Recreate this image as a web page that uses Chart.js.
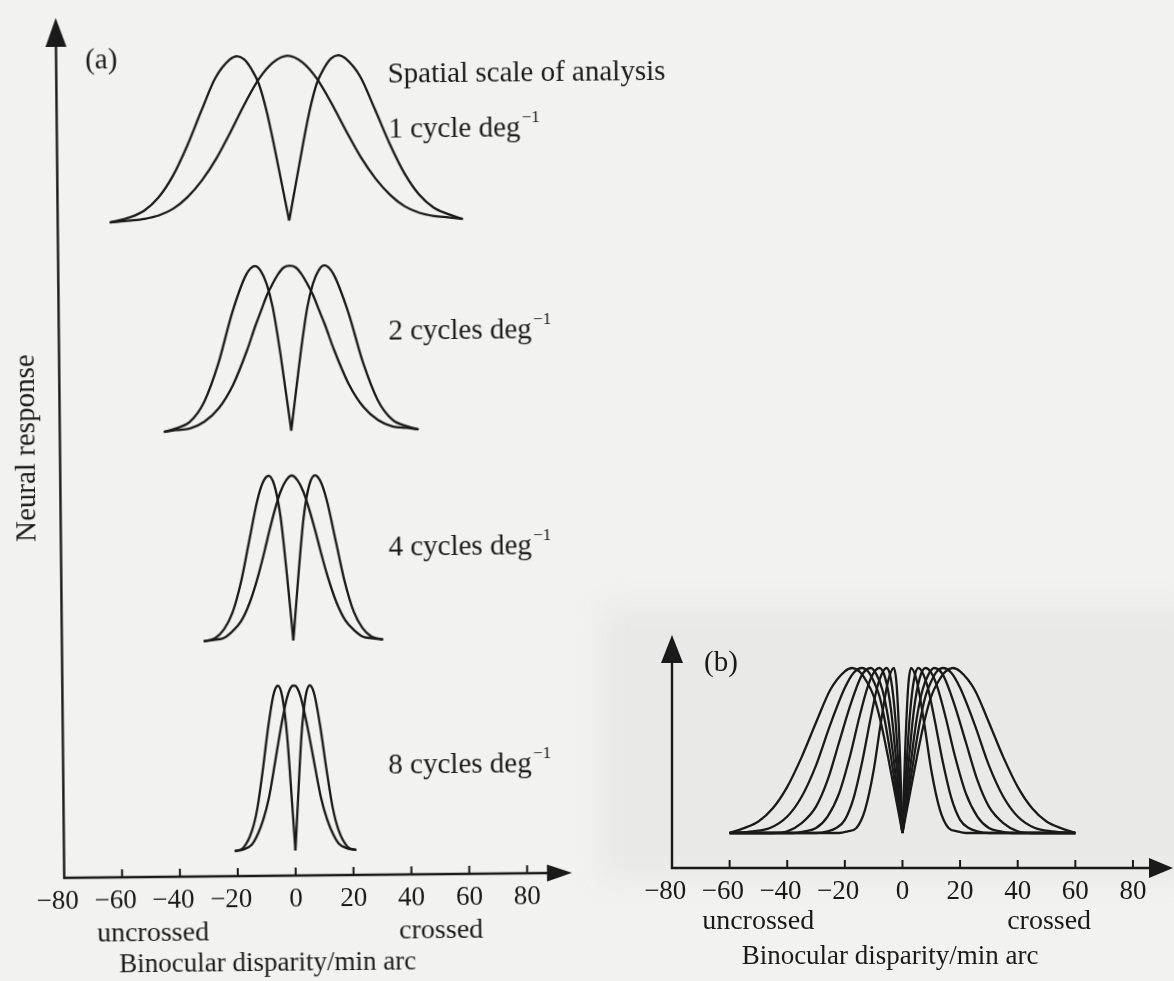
<!DOCTYPE html>
<html>
<head>
<meta charset="utf-8">
<title>Binocular disparity tuning at several spatial scales</title>
<script src="https://cdn.jsdelivr.net/npm/chart.js@4.4.1/dist/chart.umd.min.js"></script>
<style>
  html, body { margin: 0; padding: 0; background: #f2f2f0; }
  body { width: 1174px; height: 981px; position: relative; overflow: hidden; }
  #sheetShade { position: absolute; left: 600px; top: 605px; width: 600px; height: 275px;
                background: #e9e9e7; filter: blur(14px); }
  #wrapA { position: absolute; left: 0; top: 0; width: 700px; height: 981px; transform: rotate(-0.57deg); }
  #wrapB { position: absolute; left: 600px; top: 600px; width: 574px; height: 381px; }
  canvas { display: block; }
</style>
</head>
<body>
<div id="sheetShade"></div>
<div id="wrapA"><canvas id="panelA" width="700" height="981"></canvas></div>
<div id="wrapB"><canvas id="panelB" width="574" height="381"></canvas></div>
<script>
// Disparity axis ticks (min arc)
const tickValues = [-80, -60, -40, -20, 0, 20, 40, 60, 80];

// Panel (a): response curves for each spatial scale, points are [disparity, response]
const scaleLabels = ['1 cycle deg', '2 cycles deg', '4 cycles deg', '8 cycles deg'];

const tuned1 = [[-62,0],[-55,1],[-50,2],[-45,4],[-40,8],[-35,15],[-30,25],[-25,38],[-20,54],[-15,71],[-10,86],[-5,96],[0,100],[5,96],[10,86],[15,71],[20,54],[25,38],[30,25],[35,15],[40,8],[45,4],[50,2],[55,1],[60,0]];
const uncrossed1 = [[-62,0],[-55,3],[-50,7],[-45,15],[-40,28],[-35,46],[-30,67],[-25,87],[-20,98],[-17.5,100],[-15,98],[-12.5,92],[-10,83],[-7.5,67],[-5,46],[-2.5,23],[0,0]];
const crossed1 = [[0,0],[2.5,23],[5,46],[7.5,67],[10,83],[12.5,92],[15,98],[17.5,100],[20,98],[25,87],[30,67],[35,46],[40,28],[45,15],[50,7],[55,3],[60,0]];

const tuned2 = [[-44,0],[-40,1],[-35,2],[-30,6],[-25,14],[-20,28],[-15,49],[-12,64],[-10,73],[-8,82],[-6,89],[-4,95],[-2,99],[0,100],[2,99],[4,95],[6,89],[8,82],[10,73],[12,64],[15,49],[20,28],[25,14],[30,6],[35,2],[40,1],[44,0]];
const uncrossed2 = [[-44,0],[-40,2],[-35,6],[-30,18],[-25,41],[-20,72],[-15,95],[-12,100],[-10,97],[-8,89],[-6,75],[-4,53],[-2,27],[0,0]];
const crossed2 = [[0,0],[2,27],[4,53],[6,75],[8,89],[10,97],[12,100],[15,95],[20,72],[25,41],[30,18],[35,6],[40,2],[44,0]];

const tuned4 = [[-31,0],[-27,1],[-24,2],[-21,6],[-18,12],[-15,23],[-12,39],[-10,52],[-8,66],[-6,79],[-4,90],[-2,97],[0,100],[2,97],[4,90],[6,79],[8,66],[10,52],[12,39],[15,23],[18,12],[21,6],[24,2],[27,1],[31,0]];
const uncrossed4 = [[-31,0],[-27,2],[-24,7],[-21,17],[-18,35],[-15,60],[-12,85],[-10,96],[-8,100],[-6,94],[-4,75],[-2,40],[0,0]];
const crossed4 = [[0,0],[2,40],[4,75],[6,94],[8,100],[10,96],[12,85],[15,60],[18,35],[21,17],[24,7],[27,2],[31,0]];

const tuned8 = [[-21,0],[-18,1],[-15,4],[-13,10],[-11,19],[-9,32],[-7,51],[-5.5,66],[-4,80],[-2.5,92],[-1,99],[0,100],[1,99],[2.5,92],[4,80],[5.5,66],[7,51],[9,32],[11,19],[13,10],[15,4],[18,1],[21,0]];
const uncrossed8 = [[-21,0],[-18,2],[-15,12],[-13,26],[-11,49],[-9,75],[-7,95],[-5.5,100],[-4,93],[-2.5,70],[-1,29],[0,0]];
const crossed8 = [[0,0],[1,29],[2.5,70],[4,93],[5.5,100],[7,95],[9,75],[11,49],[13,26],[15,12],[18,2],[21,0]];

// Panel (b): uncrossed and crossed detectors pooled over scales
const uncrossedB1 = [[-60,0],[-55,3],[-50,7],[-45,15],[-40,28],[-35,46],[-30,67],[-25,87],[-20,98],[-17.5,100],[-15,98],[-12.5,92],[-10,83],[-7.5,67],[-5,46],[-2.5,23],[0,0]];
const uncrossedB2 = [[-60,0],[-52,1],[-46,3],[-40,10],[-35,22],[-30,41],[-25,66],[-20,88],[-17,97],[-14,100],[-12,98],[-10,92],[-8,83],[-6,67],[-4,46],[-2,23],[0,0]];
const uncrossedB3 = [[-60,0],[-45,0],[-40,1],[-35,6],[-30,16],[-26,32],[-22,55],[-18,78],[-14,96],[-11,100],[-9,96],[-7,87],[-5,70],[-3,44],[-1.5,22],[0,0]];
const uncrossedB4 = [[-60,0],[-38,0],[-34,1],[-30,3],[-26,10],[-22,24],[-18,48],[-15,70],[-12,89],[-10,97],[-8,100],[-6,94],[-4,75],[-2,40],[-1,20],[0,0]];
const uncrossedB5 = [[-60,0],[-30,0],[-26,1],[-23,3],[-20,8],[-17,21],[-14,43],[-11,70],[-8.5,90],[-5.5,100],[-4,93],[-2.5,70],[-1,29],[0,0]];
const uncrossedB6 = [[-60,0],[-22,0],[-19,1],[-16,3],[-13,14],[-10,38],[-7.5,67],[-5,92],[-3,100],[-2,89],[-1,53],[0,0]];
const crossedB1 = [[0,0],[2.5,23],[5,46],[7.5,67],[10,83],[12.5,92],[15,98],[17.5,100],[20,98],[25,87],[30,67],[35,46],[40,28],[45,15],[50,7],[55,3],[60,0]];
const crossedB2 = [[0,0],[2,23],[4,46],[6,67],[8,83],[10,92],[12,98],[14,100],[17,97],[20,88],[25,66],[30,41],[35,22],[40,10],[46,3],[52,1],[60,0]];
const crossedB3 = [[0,0],[1.5,22],[3,44],[5,70],[7,87],[9,96],[11,100],[14,96],[18,78],[22,55],[26,32],[30,16],[35,6],[40,1],[45,0],[60,0]];
const crossedB4 = [[0,0],[1,20],[2,40],[4,75],[6,94],[8,100],[10,97],[12,89],[15,70],[18,48],[22,24],[26,10],[30,3],[34,1],[38,0],[60,0]];
const crossedB5 = [[0,0],[1,29],[2.5,70],[4,93],[5.5,100],[8.5,90],[11,70],[14,43],[17,21],[20,8],[23,3],[26,1],[30,0],[60,0]];
const crossedB6 = [[0,0],[1,53],[2,89],[3,100],[5,92],[7.5,67],[10,38],[13,14],[16,3],[19,1],[22,0],[60,0]];

// ---------------------------------------------------------------------------
const INK = '#1a1a1a';
const SERIF = "'Liberation Serif', 'Times New Roman', serif";
const TICK_SIZE = 27;
const LABEL_SIZE = 29;

// vertical offset of each row in panel (a), in response units, and where its label sits
const rowBase = [381.8, 254.5, 127.3, 0];
const rowLabelRise = [54.5, 59.2, 55.5, 50.7];
const rowLabelX = [34.6, 33.9, 33.2, 32.4];

function tickText(v) {
  // figure space balances the minus sign so digits sit on the tick
  return v < 0 ? '\u2212' + (-v) + '\u2007' : String(v);
}

function curve(pairs, base) {
  return {
    data: pairs.map(([x, y]) => ({ x, y: y + base })),
    borderColor: INK,
    borderWidth: 2.3,
    pointRadius: 0,
    fill: false,
    cubicInterpolationMode: 'monotone',
    clip: false
  };
}

function drawText(ctx, str, x, y, align, size) {
  ctx.font = `${size}px ${SERIF}`;
  ctx.textAlign = align;
  ctx.textBaseline = 'middle';
  ctx.fillText(str, x, y);
}

function drawSup(ctx, str, sup, x, y) {
  drawText(ctx, str, x, y, 'left', LABEL_SIZE);
  const w = ctx.measureText(str).width;
  drawText(ctx, sup, x + w + 1.5, y - 11, 'left', 17);
}

// axis lines with arrow heads and inward tick marks
const axisFrame = {
  id: 'axisFrame',
  afterDatasetsDraw(chart, args, o) {
    const { ctx, chartArea: a, scales: { x } } = chart;
    ctx.save();
    ctx.strokeStyle = INK;
    ctx.fillStyle = INK;
    ctx.lineWidth = o.width;
    ctx.lineCap = 'butt';
    ctx.beginPath();
    ctx.moveTo(a.left, a.bottom + o.width / 2);
    ctx.lineTo(a.left, a.top + o.yHead - 2);
    ctx.moveTo(a.left - o.width / 2, a.bottom);
    ctx.lineTo(a.right - o.xHead + 2, a.bottom);
    ctx.stroke();
    ctx.beginPath();
    ctx.moveTo(a.left, a.top);
    ctx.lineTo(a.left - o.yHalf, a.top + o.yHead);
    ctx.lineTo(a.left + o.yHalf, a.top + o.yHead);
    ctx.closePath();
    ctx.fill();
    ctx.beginPath();
    ctx.moveTo(a.right, a.bottom);
    ctx.lineTo(a.right - o.xHead, a.bottom - o.xHalf);
    ctx.lineTo(a.right - o.xHead, a.bottom + o.xHalf);
    ctx.closePath();
    ctx.fill();
    ctx.lineWidth = 2;
    ctx.beginPath();
    tickValues.forEach(v => {
      if (v === x.min) return;
      const px = x.getPixelForValue(v);
      ctx.moveTo(px, a.bottom);
      ctx.lineTo(px, a.bottom - o.tick);
    });
    ctx.stroke();
    ctx.restore();
  }
};

const labelsA = {
  id: 'labelsA',
  afterDraw(chart) {
    const { ctx, chartArea: a, scales: { x, y } } = chart;
    ctx.save();
    ctx.fillStyle = INK;
    drawText(ctx, '(a)', x.getPixelForValue(-64.4), y.getPixelForValue(479.7), 'center', LABEL_SIZE);
    drawText(ctx, 'Spatial scale of analysis', x.getPixelForValue(34.5), y.getPixelForValue(469.5), 'left', LABEL_SIZE);
    scaleLabels.forEach((s, i) => {
      drawSup(ctx, s, '\u22121', x.getPixelForValue(rowLabelX[i]), y.getPixelForValue(rowBase[i] + rowLabelRise[i]));
    });
    drawText(ctx, 'uncrossed', x.getPixelForValue(-49.5), a.bottom + 57, 'center', 28);
    drawText(ctx, 'crossed', x.getPixelForValue(50.1), a.bottom + 57, 'center', 28);
    drawText(ctx, 'Binocular disparity/min arc', x.getPixelForValue(-10), a.bottom + 88, 'center', TICK_SIZE);
    ctx.restore();
  }
};

const labelsB = {
  id: 'labelsB',
  afterDraw(chart) {
    const { ctx, chartArea: a, scales: { x, y } } = chart;
    ctx.save();
    ctx.fillStyle = INK;
    drawText(ctx, '(b)', x.getPixelForValue(-63), y.getPixelForValue(103), 'center', LABEL_SIZE);
    drawText(ctx, 'uncrossed', x.getPixelForValue(-50.1), a.bottom + 54, 'center', 28);
    drawText(ctx, 'crossed', x.getPixelForValue(50.9), a.bottom + 54, 'center', 28);
    drawText(ctx, 'Binocular disparity/min arc', x.getPixelForValue(-4.3), a.bottom + 89, 'center', TICK_SIZE);
    ctx.restore();
  }
};

function xScale(max) {
  return {
    type: 'linear',
    min: -80,
    max: max,
    grid: { display: false, drawTicks: false },
    border: { display: false },
    afterBuildTicks: s => { s.ticks = tickValues.map(v => ({ value: v })); },
    ticks: {
      autoSkip: false, maxRotation: 0, minRotation: 0, padding: 8,
      color: INK, font: { family: SERIF, size: TICK_SIZE },
      callback: v => tickText(v)
    }
  };
}

const frameA = { width: 2.4, yHead: 29, yHalf: 10.5, xHead: 25, xHalf: 8.5, tick: 8 };
const frameB = { width: 2.4, yHead: 28, yHalf: 11, xHead: 24, xHalf: 10, tick: 8 };

const datasetsA = [];
[[tuned1, uncrossed1, crossed1], [tuned2, uncrossed2, crossed2],
 [tuned4, uncrossed4, crossed4], [tuned8, uncrossed8, crossed8]].forEach((row, i) => {
  row.forEach(c => datasetsA.push(curve(c, rowBase[i])));
});

new Chart(document.getElementById('panelA'), {
  type: 'line',
  data: { datasets: datasetsA },
  options: {
    responsive: false,
    animation: false,
    events: [],
    layout: { padding: { left: 10.3, top: 15, right: 131.8, bottom: 57.6 } },
    plugins: { legend: { display: false }, tooltip: { enabled: false }, axisFrame: frameA },
    scales: {
      x: xScale(95.5),
      y: {
        type: 'linear', min: -15.15, max: 506.1,
        grid: { display: false, drawTicks: false },
        border: { display: false },
        ticks: { display: false },
        title: {
          display: true, text: 'Neural response', color: INK,
          font: { family: SERIF, size: LABEL_SIZE },
          padding: { top: 0, bottom: 15.3 }
        }
      }
    }
  },
  plugins: [axisFrame, labelsA]
});

const datasetsB = [uncrossedB1, uncrossedB2, uncrossedB3, uncrossedB4, uncrossedB5, uncrossedB6,
  crossedB1, crossedB2, crossedB3, crossedB4, crossedB5, crossedB6].map(c => curve(c, 0));

new Chart(document.getElementById('panelB'), {
  type: 'line',
  data: { datasets: datasetsB },
  options: {
    responsive: false,
    animation: false,
    events: [],
    layout: { padding: { left: 72, top: 35, right: 1, bottom: 64.6 } },
    plugins: { legend: { display: false }, tooltip: { enabled: false }, axisFrame: frameB },
    scales: {
      x: xScale(93.9),
      y: { type: 'linear', min: -21.2, max: 120, display: false }
    }
  },
  plugins: [axisFrame, labelsB]
});
</script>
</body>
</html>
